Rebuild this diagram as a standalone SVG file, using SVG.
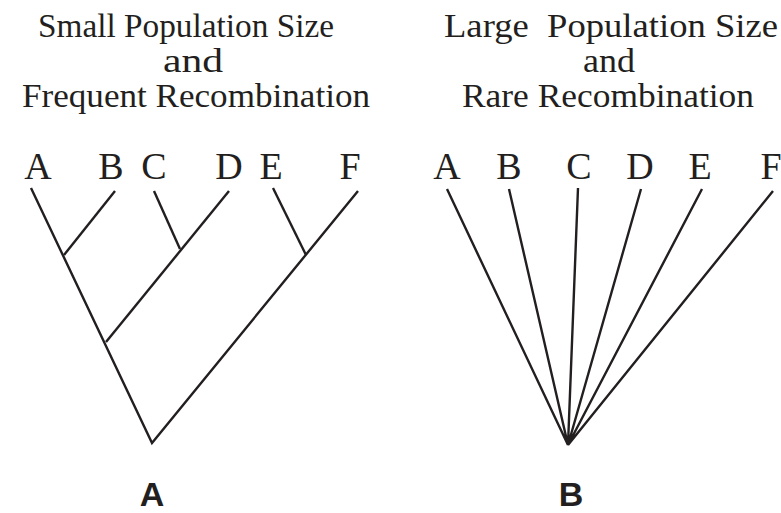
<svg xmlns="http://www.w3.org/2000/svg" width="781" height="513" viewBox="0 0 781 513">
<style>
.t{font-family:"Liberation Serif","Times New Roman",serif;font-size:34px;fill:#231f20;text-anchor:middle}
.l{font-family:"Liberation Serif","Times New Roman",serif;font-size:38px;fill:#231f20;text-anchor:middle}
.p{font-family:"Liberation Sans",Arial,sans-serif;font-size:34px;font-weight:bold;fill:#231f20;text-anchor:middle}
.e{stroke:#231f20;stroke-width:2.4;fill:none;stroke-linecap:butt}
</style>
<rect width="781" height="513" fill="#fff"/>
<g id="title-left">
<text class="t" x="186" y="37" textLength="296" lengthAdjust="spacingAndGlyphs">Small Population Size</text>
<text class="t" x="193" y="72" textLength="60" lengthAdjust="spacingAndGlyphs">and</text>
<text class="t" x="196" y="107" textLength="348" lengthAdjust="spacingAndGlyphs">Frequent Recombination</text>
</g>
<g id="title-right">
<text class="t" x="611" y="37" textLength="334" lengthAdjust="spacingAndGlyphs" xml:space="preserve">Large  Population Size</text>
<text class="t" x="609" y="72" textLength="52" lengthAdjust="spacingAndGlyphs">and</text>
<text class="t" x="608" y="107" textLength="292" lengthAdjust="spacingAndGlyphs">Rare Recombination</text>
</g>
<g id="left-leaves">
<g id="L-A"><text class="l" x="38" y="179">A</text></g>
<g id="L-B"><text class="l" x="111" y="179">B</text></g>
<g id="L-C"><text class="l" x="154" y="179">C</text></g>
<g id="L-D"><text class="l" x="229" y="179">D</text></g>
<g id="L-E"><text class="l" x="271" y="179">E</text></g>
<g id="L-F"><text class="l" x="350" y="179">F</text></g>
</g>
<g id="right-leaves">
<g id="R-A"><text class="l" x="447" y="179">A</text></g>
<g id="R-B"><text class="l" x="509" y="179">B</text></g>
<g id="R-C"><text class="l" x="579" y="179">C</text></g>
<g id="R-D"><text class="l" x="640" y="179">D</text></g>
<g id="R-E"><text class="l" x="700" y="179">E</text></g>
<g id="R-F"><text class="l" x="771" y="179">F</text></g>
</g>
<g id="connectors" class="e">
<path class="e" d="M31 188 L152 443 L358 191"/>
<path class="e" d="M115 191 L64 255"/>
<path class="e" d="M229 191 L106 342"/>
<path class="e" d="M154 191 L180 249"/>
<path class="e" d="M273 188 L306 255"/>
<path class="e" d="M447 189 L568 445 M509 189 L568 445 M578 188 L568 445 M641 189 L568 445 M702 189 L568 445 M773 191 L568 445"/>
</g>
<g id="panel-A"><text class="p" x="152" y="506">A</text></g>
<g id="panel-B"><text class="p" x="571" y="506">B</text></g>
</svg>
